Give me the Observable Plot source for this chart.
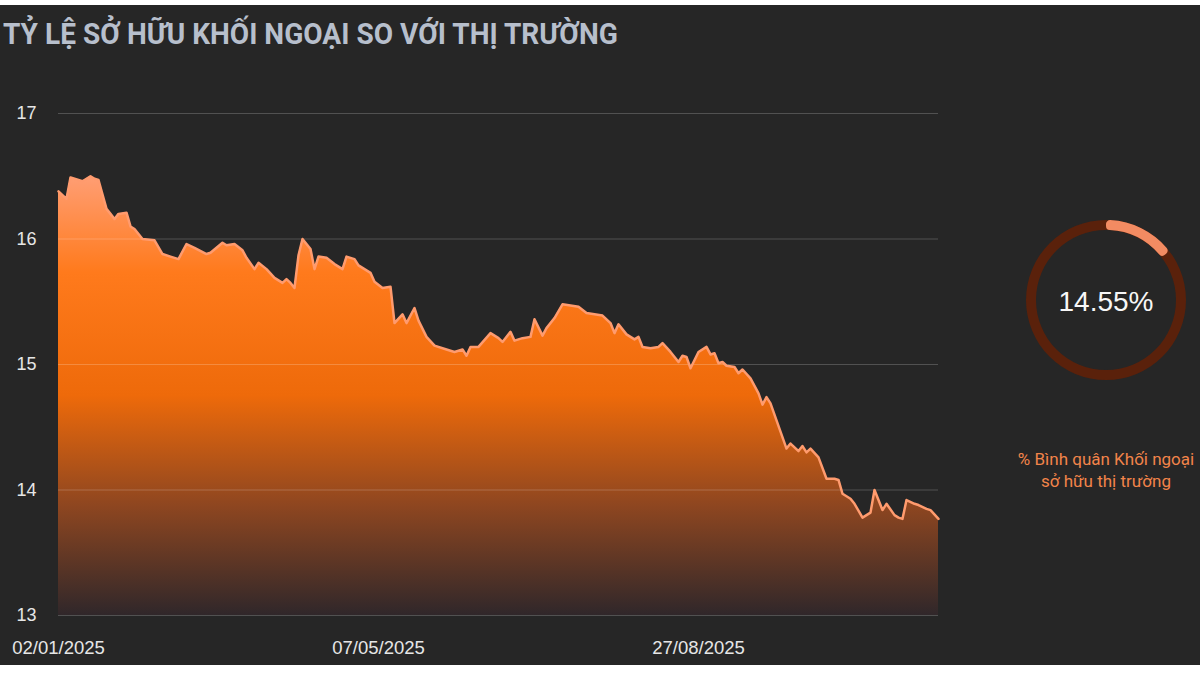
<!DOCTYPE html>
<html>
<head>
<meta charset="utf-8">
<script src="https://cdn.jsdelivr.net/npm/d3@7"></script>
<script src="https://cdn.jsdelivr.net/npm/@observablehq/plot@0.6"></script>
<style>
html,body{margin:0;padding:0;}
body{width:1200px;height:675px;background:#262626;position:relative;overflow:hidden;font-family:"Liberation Sans",Arial,sans-serif;}
.strip{position:absolute;left:0;width:1200px;background:#ffffff;}
#title{position:absolute;left:3px;top:19px;font-family:Roboto,sans-serif;font-weight:700;font-size:30px;line-height:30px;color:#b7bfcc;white-space:nowrap;transform-origin:0 0;}
#chart{position:absolute;left:0;top:0;}
#donut{position:absolute;left:1000px;top:200px;width:200px;height:200px;}
#caption{position:absolute;left:995px;width:222px;top:448px;text-align:center;color:#f2844a;font-family:Roboto,sans-serif;font-size:17px;line-height:22px;}
</style>
</head>
<body>
<div class="strip" style="top:0;height:5px;"></div>
<div id="title"></div>
<div id="chart"></div>
<div id="donut"></div>
<div id="caption"></div>
<div class="strip" style="top:665px;height:10px;"></div>
<script>
// ---- data ----
const titleText = "TỶ LỆ SỞ HỮU KHỐI NGOẠI SO VỚI THỊ TRƯỜNG";
const captionLines = ["% Bình quân Khối ngoại", "sở hữu thị trường"];
const avgOwnership = 14.55;

// trading-session index since 02/01/2025
const session = [
  0,2,3,4,6,8,9,10,12,13,
  14,15,17,18,19,21,24,26,28,30,
  32,34,37,38,41,42,44,46,47,49,
  50,52,54,56,57,58,59,60,61,63,
  64,65,67,69,71,72,74,75,76,78,
  79,81,83,84,86,87,89,90,92,94,
  97,99,101,102,103,105,108,110,111,113,
  114,116,118,119,121,122,124,126,128,130,
  132,134,136,138,139,140,142,144,145,146,
  148,150,151,153,155,156,157,158,160,162,
  163,164,165,166,167,169,170,171,173,175,
  176,177,178,182,183,185,186,187,188,190,
  192,194,195,196,198,199,201,203,204,206,
  207,209,210,211,212,214,215,217,218,220
];
// foreign ownership ratio (%)
const ratio = [
  16.38,16.32,16.49,16.48,16.46,16.50,16.48,16.47,16.24,16.20,
  16.16,16.20,16.21,16.10,16.08,16.00,15.99,15.88,15.86,15.84,
  15.96,15.93,15.88,15.89,15.97,15.95,15.96,15.91,15.85,15.76,
  15.81,15.76,15.69,15.65,15.68,15.65,15.61,15.87,16.00,15.92,
  15.76,15.86,15.85,15.80,15.76,15.86,15.84,15.79,15.77,15.73,
  15.66,15.61,15.62,15.33,15.40,15.33,15.45,15.35,15.22,15.15,
  15.12,15.10,15.12,15.07,15.14,15.14,15.25,15.21,15.18,15.26,
  15.19,15.21,15.22,15.36,15.23,15.29,15.37,15.48,15.47,15.46,
  15.41,15.40,15.39,15.33,15.25,15.32,15.24,15.20,15.22,15.14,
  15.13,15.14,15.17,15.10,15.02,15.07,15.06,14.97,15.10,15.14,
  15.08,15.09,15.01,15.02,14.99,14.98,14.93,14.96,14.89,14.77,
  14.68,14.74,14.69,14.33,14.37,14.31,14.35,14.30,14.33,14.26,
  14.09,14.09,14.08,13.97,13.93,13.89,13.78,13.82,14.00,13.84,
  13.89,13.80,13.78,13.77,13.92,13.89,13.88,13.85,13.84,13.77
];
const tickSessions = [0, 80, 160];
const tickLabels = ["02/01/2025", "07/05/2025", "27/08/2025"];
const yTicks = [13, 14, 15, 16, 17];

const data = session.map((s, i) => ({s, v: ratio[i]}));

// ---- title ----
const titleEl = document.getElementById("title");
titleEl.textContent = titleText;
const tw = titleEl.getBoundingClientRect().width;
if (tw > 0) titleEl.style.transform = `scaleX(${615 / tw})`;

// ---- caption ----
document.getElementById("caption").innerHTML = captionLines.join("<br>");

// ---- main chart ----
const ns = "http://www.w3.org/2000/svg";
const yMin = d3.min(yTicks), yMax = d3.max(yTicks);
const gradientDefs = (index, scales) => {
  const defs = document.createElementNS(ns, "defs");
  const lg = document.createElementNS(ns, "linearGradient");
  lg.setAttribute("id", "areaGrad");
  lg.setAttribute("gradientUnits", "userSpaceOnUse");
  const yS = scales && scales.y ? scales.y : (v => 113 + (yMax - v) / (yMax - yMin) * 502);
  lg.setAttribute("x1", 0); lg.setAttribute("x2", 0);
  lg.setAttribute("y1", yS(d3.max(ratio)));
  lg.setAttribute("y2", yS(yMin));
  [[0, "#ff9e74"], [0.22, "#ff7a1c"], [0.5, "#ee6a0a"], [0.75, "#8e4620"], [1, "#30272a"]].forEach(([o, c]) => {
    const st = document.createElementNS(ns, "stop");
    st.setAttribute("offset", o);
    st.setAttribute("stop-color", c);
    lg.appendChild(st);
  });
  defs.appendChild(lg);
  return defs;
};

const chart = Plot.plot({
  width: 960,
  height: 665,
  marginTop: 113,
  marginBottom: 50,
  marginLeft: 58,
  marginRight: 22,
  style: {background: "transparent", color: "#e6e6e6", fontFamily: "'Liberation Sans', Arial, sans-serif", fontSize: "17px"},
  x: {domain: [0, 220]},
  y: {domain: [yMin, yMax]},
  marks: [
    gradientDefs,
    Plot.areaY(data, {x: "s", y1: yMin, y2: "v", fill: "url(#areaGrad)"}),
    Plot.ruleY(yTicks, {stroke: "#ffffff", strokeOpacity: 0.2, strokeWidth: 1}),
    Plot.lineY(data, {x: "s", y: "v", stroke: "#ff9b6e", strokeWidth: 2.5, strokeLinejoin: "round"}),
    Plot.axisY(yTicks, {tickSize: 0, tickPadding: 22, label: null, fontSize: 18, fill: "#e6e6e6",
      tickFormat: d => String(d)}),
    Plot.axisX(tickSessions, {tickSize: 0, tickPadding: 25, label: null, fontSize: 18.5, fill: "#e6e6e6",
      tickFormat: d => tickLabels[tickSessions.indexOf(d)]})
  ]
});
document.getElementById("chart").appendChild(chart);

// ---- donut ----
const dsvg = d3.select("#donut").append("svg").attr("width", 200).attr("height", 200);
const g = dsvg.append("g").attr("transform", "translate(106,100)");
const arc = d3.arc().innerRadius(70).outerRadius(80);
g.append("path").attr("d", arc({startAngle: 0, endAngle: 2 * Math.PI})).attr("fill", "#5a210b");
g.append("path").attr("d", arc.cornerRadius(4)({startAngle: 0, endAngle: avgOwnership / 100 * 2 * Math.PI})).attr("fill", "#f28b62");
g.append("text").attr("text-anchor", "middle").attr("dy", "0.35em").attr("y", 1)
  .attr("fill", "#f7f7f7").attr("font-size", 28).attr("font-family", "'Liberation Sans', Arial, sans-serif")
  .text(avgOwnership.toFixed(2) + "%");
</script>
</body>
</html>
